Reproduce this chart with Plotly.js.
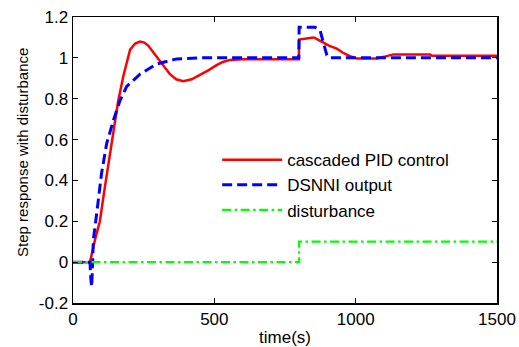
<!DOCTYPE html>
<html>
<head>
<meta charset="utf-8">
<script src="https://cdn.plot.ly/plotly-3.0.1.min.js"></script>
<style>html,body{margin:0;padding:0;background:#fff;}#chart{width:519px;height:347px;}</style>
</head>
<body>
<div id="chart"></div>
<script>
// cascaded PID control response
const pidT = [0, 60, 78, 95, 113, 131, 143, 160, 178, 202, 220, 237, 252, 266, 296, 320, 343, 365, 390, 420, 449, 480, 508, 530, 555, 600, 700, 799, 800, 830, 850, 857, 880, 905, 933, 955, 980, 1004, 1040, 1074, 1100, 1120, 1133, 1200, 1263, 1270, 1500];
const pidY = [0, 0, 0.11, 0.2, 0.37, 0.53, 0.66, 0.79, 0.91, 1.04, 1.07, 1.08, 1.075, 1.06, 1.005, 0.96, 0.92, 0.895, 0.886, 0.895, 0.915, 0.94, 0.964, 0.98, 0.99, 0.993, 0.993, 0.993, 1.09, 1.095, 1.10, 1.097, 1.08, 1.06, 1.045, 1.025, 1.008, 0.997, 0.997, 0.997, 1.005, 1.01, 1.017, 1.017, 1.017, 1.01, 1.01];
// DSNNI output
const dsnniT = [0, 60, 63, 66, 69, 72, 84, 101, 119, 143, 166, 190, 237, 296, 367, 449, 600, 799, 800, 856, 874, 886, 898, 910, 1000, 1500];
const dsnniY = [0, 0, -0.08, -0.12, -0.02, 0.11, 0.24, 0.435, 0.58, 0.695, 0.79, 0.86, 0.92, 0.97, 0.995, 1.0, 1.0, 1.0, 1.15, 1.15, 1.135, 1.07, 1.013, 1.0, 1.0, 1.0];
// disturbance
const distT = [0, 800, 800, 1500];
const distY = [0, 0, 0.1, 0.1];
// labels and ticks
const seriesNames = ["cascaded PID control", "DSNNI output", "disturbance"];
const xTicks = [0, 500, 1000, 1500];
const yTicks = [-0.2, 0, 0.2, 0.4, 0.6, 0.8, 1, 1.2];
const yTickText = ["-0.2", "0", "0.2", "0.4", "0.6", "0.8", "1", "1.2"];
const xTitle = "time(s)";
const yTitle = "Step response with disturbance";

const FONT = "Liberation Sans, Arial, sans-serif";

const traces = [
  {x: pidT, y: pidY, name: seriesNames[0], mode: "lines", line: {color: "#ff0000", width: 2.5}},
  {x: dsnniT, y: dsnniY, name: seriesNames[1], mode: "lines", line: {color: "#0000ff", width: 3, dash: "10px,5px"}},
  {x: distT, y: distY, name: seriesNames[2], mode: "lines", line: {color: "#00ff00", width: 2.2, dash: "9px,3.5px,2.5px,3.5px"}}
];

const axisCommon = {
  showgrid: false, zeroline: false, showline: true, linecolor: "#000", linewidth: 1.5,
  mirror: "ticks", ticks: "inside", ticklen: 5, tickcolor: "#000", tickwidth: 1,
  tickfont: {family: FONT, size: 17, color: "#000"}
};

const layout = {
  width: 519, height: 347,
  margin: {l: 73, r: 22, t: 17, b: 44},
  paper_bgcolor: "#fff", plot_bgcolor: "#fff",
  showlegend: true,
  legend: {
    x: 0.34, y: 0.5625, xanchor: "left", yanchor: "top",
    bgcolor: "rgba(0,0,0,0)", borderwidth: 0,
    font: {family: FONT, size: 17, color: "#000"},
    itemwidth: 60
  },
  xaxis: Object.assign({}, axisCommon, {
    range: [0, 1500], tickvals: xTicks, ticktext: xTicks.map(String),
    title: {text: xTitle, font: {family: FONT, size: 17, color: "#000"}, standoff: 5}
  }),
  yaxis: Object.assign({}, axisCommon, {
    range: [-0.2, 1.2], tickvals: yTicks, ticktext: yTickText
  }),
  annotations: [{
    text: yTitle, xref: "paper", yref: "paper", x: -0.118, y: 0.528,
    xanchor: "center", yanchor: "middle", textangle: -90, showarrow: false,
    font: {family: FONT, size: 15, color: "#000"}
  }]
};

Plotly.newPlot("chart", traces, layout, {staticPlot: true, displayModeBar: false});
</script>
</body>
</html>
